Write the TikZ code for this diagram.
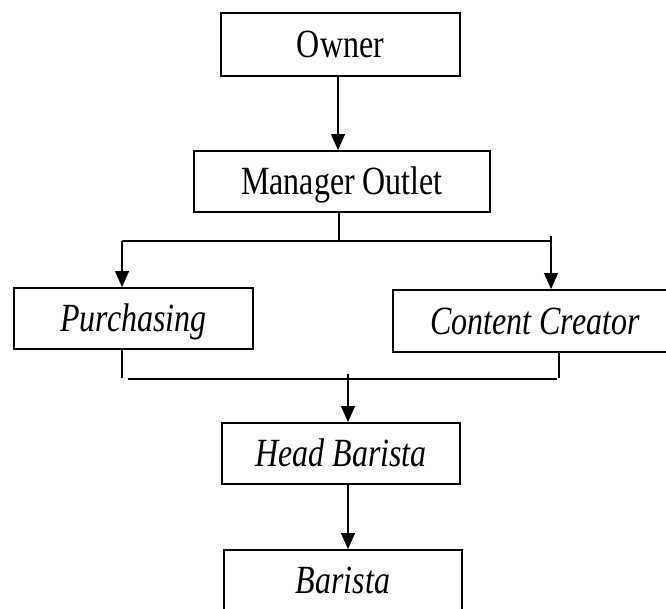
\documentclass[tikz,border=0pt]{standalone}
\usepackage{fontspec}
\setmainfont{Liberation Serif}[FakeStretch=0.8]
\usetikzlibrary{arrows.meta}
\tikzset{
  boxnode/.style={draw=black, line width=1.8pt, rectangle, inner sep=0pt,
    font=\fontsize{40}{48}\selectfont, text height=26pt, text depth=0pt},
  conn/.style={line width=1.1pt, draw=black},
  arr/.style={conn, -{Triangle[length=16pt,width=14pt]}},
}
\begin{document}
\begin{tikzpicture}[x=1pt,y=-1pt]
\useasboundingbox (0,0) rectangle (666,608);
\node[boxnode, minimum width=239pt, minimum height=63pt] (owner) at (340.5,44.5) {Owner};
\node[boxnode, minimum width=296pt, minimum height=61pt] (mgr) at (342,181.5) {Manager Outlet};
\node[boxnode, minimum width=239pt, minimum height=61pt] (pur) at (133.5,318.5) {\itshape Purchasing};
\node[boxnode, minimum width=284pt, minimum height=62pt] (cc) at (535,321) {\itshape Content Creator};
\node[boxnode, minimum width=238pt, minimum height=61pt] (hb) at (341,453.5) {\itshape Head Barista};
\node[boxnode, minimum width=238pt, minimum height=61pt] (bar) at (343,580.5) {\itshape Barista};
% junction coordinates
\coordinate (mj) at (339,241);
\coordinate (jl) at (122,241);
\coordinate (jr) at (551,241);
\coordinate (jrt) at (551,236);
\coordinate (pl) at (122,378);
\coordinate (bl) at (128,379);
\coordinate (br) at (557,379);
\coordinate (cr) at (559,378);
\coordinate (bj) at (348,374);
% connectors
\draw[arr] (owner.south -| 338,0) -- (mgr.north -| 338,0);
\draw[conn] (mgr.south -| mj) -- (mj);
\draw[conn] (jl) -- (jr);
\draw[arr] (jl) -- (pur.north -| jl);
\draw[arr] (jrt) -- (cc.north -| jrt);
\draw[conn] (pur.south -| pl) -- (pl);
\draw[conn] (cc.south -| cr) -- (cr);
\draw[conn] (bl) -- (br);
\draw[arr] (bj) -- (hb.north -| bj);
\draw[arr] (hb.south -| bj) -- (bar.north -| bj);
\end{tikzpicture}
\end{document}
